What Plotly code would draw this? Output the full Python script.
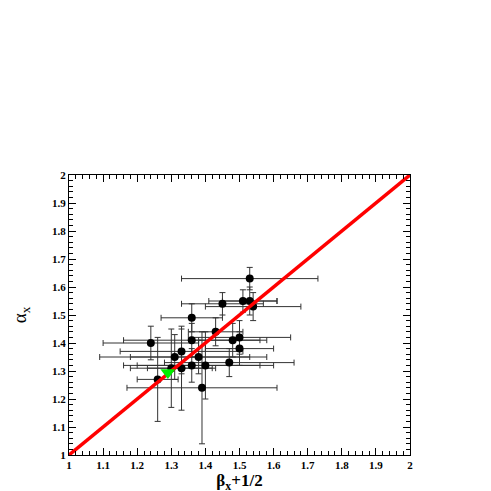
import plotly.graph_objects as go

# data: beta_x + 1/2 (x), alpha_x (y) with symmetric errors
x_vals = [1.53, 1.51, 1.53, 1.54, 1.45, 1.36, 1.43, 1.24, 1.36, 1.48, 1.50, 1.50,
          1.33, 1.31, 1.38, 1.36, 1.40, 1.47, 1.30, 1.33, 1.26, 1.39]
y_vals = [1.63, 1.55, 1.55, 1.53, 1.54, 1.49, 1.44, 1.40, 1.41, 1.41, 1.42, 1.38,
          1.37, 1.35, 1.35, 1.32, 1.32, 1.33, 1.31, 1.31, 1.27, 1.24]
x_err = [0.20, 0.10, 0.08, 0.14, 0.12, 0.09, 0.08, 0.14, 0.20, 0.10, 0.15, 0.10,
         0.18, 0.22, 0.20, 0.20, 0.20, 0.19, 0.12, 0.10, 0.06, 0.22]
y_err = [0.04, 0.04, 0.05, 0.05, 0.04, 0.05, 0.05, 0.06, 0.06, 0.06, 0.06, 0.06,
         0.08, 0.08, 0.06, 0.06, 0.12, 0.05, 0.14, 0.15, 0.15, 0.20]
special_x = [1.29]
special_y = [1.295]
line_x = [1.0, 2.0]
line_y = [1.0, 2.0]

FONT = "Liberation Serif"

fig = go.Figure()
fig.add_trace(go.Scatter(
    x=x_vals, y=y_vals, mode="markers",
    marker=dict(color="black", size=8),
    error_x=dict(type="data", array=x_err, color="#333333", thickness=1, width=3),
    error_y=dict(type="data", array=y_err, color="#333333", thickness=1, width=3),
    showlegend=False, cliponaxis=False,
))
fig.add_trace(go.Scatter(
    x=line_x, y=line_y, mode="lines",
    line=dict(color="#ff0000", width=3.5), showlegend=False,
))
fig.add_trace(go.Scatter(
    x=special_x, y=special_y, mode="markers",
    marker=dict(color="#00ee00", size=13, symbol="triangle-down"),
    showlegend=False,
))

axis_common = dict(
    range=[1, 2], tick0=1, dtick=0.1, ticks="inside", ticklen=7, tickwidth=1,
    tickcolor="black", showline=True, linecolor="black", linewidth=1,
    mirror="ticks", showgrid=False, zeroline=False, automargin=False,
    minor=dict(ticks="inside", ticklen=4, dtick=0.02, tick0=1, tickcolor="black", showgrid=False),
    tickfont=dict(family=FONT, size=11, color="black", weight="bold"),
)

fig.update_layout(
    width=491, height=491,
    margin=dict(l=61, r=89, t=167, b=44),
    paper_bgcolor="white", plot_bgcolor="white",
    xaxis=dict(**axis_common,
               title=dict(text="β<sub>x</sub>+1/2", standoff=3,
                          font=dict(family=FONT, size=17, color="black", weight="bold"))),
    yaxis=dict(**axis_common,
               title=dict(text="α<sub>x</sub>", standoff=20,
                          font=dict(family=FONT, size=19, color="black"))),
)

fig.write_html("out.html")
